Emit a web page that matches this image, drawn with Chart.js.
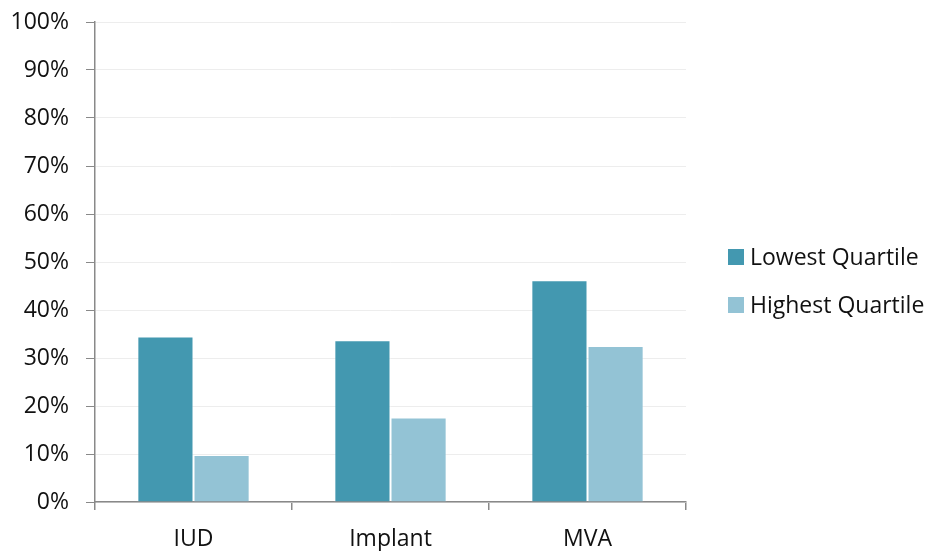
<!DOCTYPE html>
<html>
<head>
<meta charset="utf-8">
<script src="https://cdn.jsdelivr.net/npm/chart.js@4/dist/chart.umd.min.js"></script>
<style>
  html, body { margin: 0; padding: 0; background: #ffffff; }
  #wrap { width: 930px; height: 551px; position: relative; }
</style>
</head>
<body>
<div id="wrap"><canvas id="c" width="930" height="551"></canvas></div>
<script>
// Categories and series (percent)
const categories = ['IUD', 'Implant', 'MVA'];
const lowestQuartile = [34.5, 33.7, 46.2];
const highestQuartile = [9.8, 17.6, 32.5];
const seriesNames = ['Lowest Quartile', 'Highest Quartile'];
const seriesColors = ['#4398B0', '#93C3D5'];

const FONT = "'Open Sans', Lato, 'DejaVu Sans', sans-serif";
const FONT_SIZE = 23;
const TEXT_COLOR = '#111111';

// Legend drawn on the right, beside the plot
const sideLegend = {
  id: 'sideLegend',
  afterDraw(chart) {
    const ctx = chart.ctx;
    const x0 = 728, ys = [257, 305];
    ctx.save();
    ctx.font = FONT_SIZE + 'px ' + FONT;
    ctx.textBaseline = 'middle';
    ctx.textAlign = 'left';
    chart.data.datasets.forEach((ds, i) => {
      const y = ys[i];
      ctx.fillStyle = ds.backgroundColor;
      ctx.fillRect(x0, y - 8, 16, 16);
      ctx.fillStyle = TEXT_COLOR;
      ctx.fillText(ds.label, x0 + 22, y + 1);
    });
    ctx.restore();
  }
};

new Chart(document.getElementById('c'), {
  type: 'bar',
  data: {
    labels: categories,
    datasets: [
      { label: seriesNames[0], data: lowestQuartile, backgroundColor: seriesColors[0],
        borderColor: 'rgba(255,255,255,0.35)', borderWidth: 1 },
      { label: seriesNames[1], data: highestQuartile, backgroundColor: seriesColors[1],
        borderColor: 'rgba(255,255,255,0.35)', borderWidth: 1 }
    ]
  },
  options: {
    responsive: false,
    animation: false,
    layout: { padding: { left: 0, top: 22, right: 244, bottom: 0 } },
    categoryPercentage: 0.57,
    barPercentage: 1.0,
    plugins: { legend: { display: false }, tooltip: { enabled: false } },
    scales: {
      x: {
        offset: true,
        grid: { display: true, offset: true, drawOnChartArea: false, tickLength: 8,
                color: '#898989', lineWidth: 1.5 },
        border: { color: '#898989', width: 1.5 },
        ticks: { font: { family: FONT, size: FONT_SIZE }, color: TEXT_COLOR, padding: 16 },
        afterFit(scale) { scale.height = 49; scale.paddingLeft = 0; scale.paddingRight = 0; }
      },
      y: {
        min: 0, max: 100,
        ticks: { stepSize: 10, font: { family: FONT, size: FONT_SIZE }, color: TEXT_COLOR, padding: 17,
                 callback: v => v + '%' },
        grid: { color: '#EDEDED', lineWidth: 1, tickLength: 9, drawTicks: true,
                tickColor: '#898989' },
        border: { color: '#898989', width: 1.5 },
        afterFit(scale) { scale.width = 95; scale.paddingTop = 0; scale.paddingBottom = 0; }
      }
    }
  },
  plugins: [sideLegend]
});
</script>
</body>
</html>
